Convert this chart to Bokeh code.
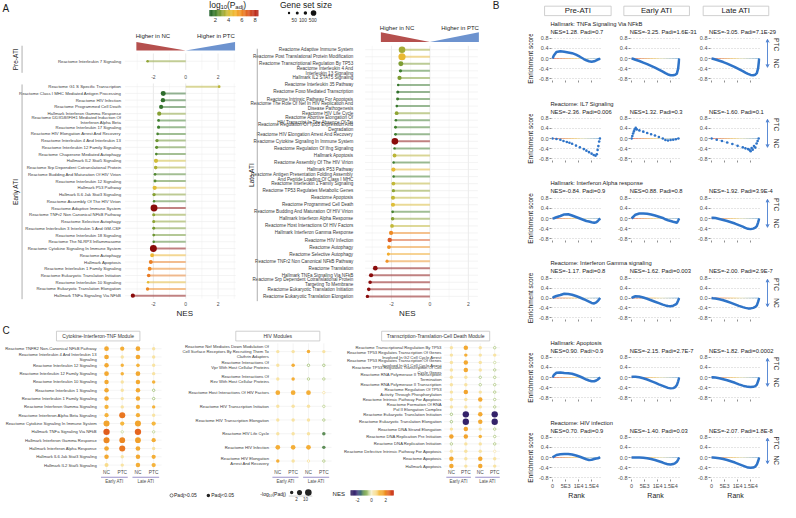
import math
import numpy as np
from bokeh.plotting import figure
from bokeh.layouts import row, column
from bokeh.models import Range1d, FixedTicker, PrintfTickFormatter, Arrow, VeeHead
from bokeh.core.properties import value
from bokeh.embed import file_html
from bokeh.resources import INLINE

FONT = "Liberation Sans"

# ------------------------------------------------------------------ data: panel A
PRE_LABELS = ["Reactome Interleukin 7 Signaling"]
PRE_NES = [-2.36]
PRE_LOGP = [3.0]
PRE_SIZE = [20]

EARLY_LABELS = [
    "Reactome G1 S Specific Transcription",
    "Reactome Class I MHC Mediated Antigen Processing",
    "Reactome HIV Infection",
    "Reactome Programmed Cell Death",
    "Hallmark Interferon Gamma Response",
    "Reactome DDX58/IFIH1 Mediated Induction Of\nInterferon Alpha Beta",
    "Reactome Interleukin 17 Signaling",
    "Reactome HIV Elongation Arrest And Recovery",
    "Reactome Interleukin 4 And Interleukin 13",
    "Reactome Interleukin 12 Family Signaling",
    "Reactome Chaperone Mediated Autophagy",
    "Hallmark IL2 Stat5 Signaling",
    "Reactome Srp Dependent Cotranslational Protein",
    "Reactome Budding And Maturation Of HIV Virion",
    "Reactome Interleukin 12 Signaling",
    "Hallmark P53 Pathway",
    "Hallmark IL6 Jak Stat3 Signaling",
    "Reactome Assembly Of The HIV Virion",
    "Reactome Adaptive Immune System",
    "Reactome TNFr2 Non Canonical NFkB Pathway",
    "Reactome Selective Autophagy",
    "Reactome Interleukin 3 Interleukin 5 And GM-CSF",
    "Reactome Interleukin 18 Signaling",
    "Reactome The NLRP3 Inflammasome",
    "Reactome Cytokine Signaling In Immune System",
    "Reactome Autophagy",
    "Hallmark Apoptosis",
    "Reactome Interleukin 1 Family Signaling",
    "Reactome Eukaryotic Translation Initiation",
    "Reactome Interleukin 10 Signaling",
    "Reactome Eukaryotic Translation Elongation",
    "Hallmark TNFa Signaling Via NFkB"]
EARLY_NES = [2.07, -1.39, -1.41, -1.52, -1.64, -1.68, -1.68, -1.74, -1.78, -1.80, -1.82, -1.84,
             -1.86, -1.90, -1.90, -1.92, -1.96, -1.96, -1.96, -1.98, -1.98, -1.98, -1.98, -1.98,
             -2.00, -2.08, -2.16, -2.23, -2.29, -2.33, -2.36, -3.27]
EARLY_LOGP = [3.6, 1.5, 1.6, 1.7, 2.9, 2.0, 2.0, 2.1, 2.6, 2.4, 2.2, 3.9, 3.4, 2.2, 2.3, 4.3,
              2.9, 2.2, 10, 3.0, 3.0, 2.7, 2.6, 2.2, 10, 4.8, 6.2, 6.0, 6.3, 4.5, 6.0, 10]
EARLY_SIZE = [25, 350, 230, 200, 200, 30, 60, 20, 80, 55, 20, 200, 110, 28, 45, 200, 87, 15,
              900, 60, 60, 45, 30, 15, 900, 140, 161, 140, 120, 15, 90, 200]

LATE_LABELS = [
    "Reactome Adaptive Immune System",
    "Reactome Post Translational Protein Modification",
    "Reactome Transcriptional Regulation By TP53",
    "Reactome Interleukin 4 And\nInterleukin 13 Signaling",
    "Hallmark IL2 STAT5 Signaling",
    "Reactome Interleukin 35 Pathway",
    "Reactome Foxo Mediated Transcription",
    "Reactome Intrinsic Pathway For Apoptosis",
    "Reactome The Role Of Nef In HIV Replication And\nDisease Pathogenesis",
    "Reactome HIV Life Cycle",
    "Reactome Abortive Elongation Of\nHIV Transcript In The Absence Of Tat",
    "Reactome Regulation Of Tp53 Expression And\nDegradation",
    "Reactome HIV Elongation Arrest And Recovery",
    "Reactome Cytokine Signaling In Immune System",
    "Reactome Regulation Of Ifng Signaling",
    "Hallmark Apoptosis",
    "Reactome Assembly Of The HIV Virion",
    "Hallmark P53 Pathway",
    "Reactome Antigen Presentation Folding Assembly\nAnd Peptide Loading Of Class I MHC",
    "Reactome Interleukin 1 Family Signaling",
    "Reactome TP53 Regulates Metabolic Genes",
    "Reactome Apoptosis",
    "Reactome Programmed Cell Death",
    "Reactome Budding And Maturation Of HIV Virion",
    "Hallmark Interferon Alpha Response",
    "Reactome Host Interactions Of HIV Factors",
    "Hallmark Interferon Gamma Response",
    "Reactome HIV Infection",
    "Reactome Autophagy",
    "Reactome Selective Autophagy",
    "Reactome TNFr2 Non Canonical NFkB Pathway",
    "Reactome Translation",
    "Hallmark TNFa Signaling Via NFkB",
    "Reactome Srp Dependent Cotranslational Protein\nTargeting To Membrane",
    "Reactome Eukaryotic Translation Initiation",
    "Reactome Eukaryotic Translation Elongation"]
LATE_NES = [-1.45, -1.45, -1.51, -1.53, -1.58, -1.65, -1.67, -1.68, -1.72, -1.73, -1.77, -1.79,
            -1.79, -1.82, -1.84, -1.84, -1.89, -1.90, -1.89, -1.90, -1.90, -1.92, -1.92, -1.94,
            -1.94, -1.97, -2.02, -2.09, -2.13, -2.16, -2.23, -2.84, -3.06, -3.11, -3.18, -3.25]
LATE_LOGP = [3.3, 4.6, 2.8, 2.0, 2.8, 1.8, 1.6, 1.9, 1.8, 3.0, 1.9, 2.0, 1.9, 10, 1.9, 3.6, 1.9,
             4.5, 2.0, 3.7, 3.0, 3.7, 4.2, 2.1, 2.9, 3.7, 6.0, 7.0, 5.8, 5.2, 5.8, 10, 10, 10, 10, 10]
LATE_SIZE = [800, 1000, 350, 80, 200, 15, 60, 50, 25, 140, 20, 35, 30, 800, 15, 161, 15, 200, 15,
             140, 80, 170, 190, 28, 97, 130, 200, 230, 140, 60, 60, 290, 200, 110, 120, 90]

LOGP_TICKS = [2, 4, 6, 8]
SIZE_LEGEND = [10, 50, 100, 500]
SIZE_LEGEND_LABELS = ["50", "100", "500"]

# ------------------------------------------------------------------ data: panel B
B_COLS = ["Pre-ATI", "Early ATI", "Late ATI"]
GS_TITLES = ["Hallmark: TNFa Signaling Via NFkB", "Reactome: IL7 Signaling",
             "Hallmark: Interferon Alpha response", "Reactome: Interferon Gamma signaling",
             "Hallmark: Apoptosis", "Reactome: HIV infection"]
GS_STATS = [["NES=1.28, Padj=0.7", "NES=-3.25, Padj=1.6E-31", "NES=-3.05, Padj=7.1E-29"],
            ["NES=-2.36, Padj=0.006", "NES=1.32, Padj=0.3", "NES=-1.60, Padj=0.1"],
            ["NES=-0.84, Padj=0.9", "NES=0.88, Padj=0.8", "NES=-1.92, Padj=3.9E-4"],
            ["NES=-1.17, Padj=0.8", "NES=-1.62, Padj=0.003", "NES=-2.00, Padj=2.9E-7"],
            ["NES=0.90, Padj>0.9", "NES=-2.15, Padj=2.7E-7", "NES=-1.82, Padj=0.0002"],
            ["NES=0.70, Padj=0.9", "NES=-1.40, Padj=0.03", "NES=-2.07, Padj=1.8E-8"]]
RANK_TICKS = [0, 5000, 10000, 15000]
RANK_LABELS = ["0", "5E3", "1E4", "1.5E4"]
ES_TICKS = [-0.8, -0.4, 0.0, 0.4, 0.8]

GS_RANK = [0, 500, 1500, 3000, 4500, 6000, 7500, 9000, 10500, 12000, 13000, 14000, 15000,
           16000, 16800, 17400, 17900, 18300]
ES_TNFA = [[0, 0.12, 0.26, 0.29, 0.27, 0.24, 0.21, 0.15, 0.07, -0.02, -0.07, -0.11, -0.13, -0.11, -0.07, -0.04, -0.02, 0],
           [0, -0.01, -0.05, -0.10, -0.16, -0.22, -0.29, -0.36, -0.44, -0.52, -0.58, -0.63, -0.66, -0.66, -0.64, -0.60, -0.40, 0],
           [0, -0.01, -0.04, -0.09, -0.14, -0.20, -0.27, -0.34, -0.42, -0.50, -0.56, -0.61, -0.65, -0.66, -0.64, -0.58, -0.38, 0]]
ES_IFNA = [[0, 0.01, 0.05, 0.10, 0.16, 0.17, 0.12, 0.06, 0.0, -0.06, -0.10, -0.12, -0.15, -0.17, -0.15, -0.10, -0.04, 0],
           [0, 0.05, 0.15, 0.20, 0.20, 0.19, 0.16, 0.12, 0.07, 0.02, -0.03, -0.07, -0.10, -0.13, -0.15, -0.17, -0.08, 0],
           [0.02, 0.03, 0.02, -0.02, -0.06, -0.10, -0.15, -0.20, -0.26, -0.32, -0.37, -0.41, -0.42, -0.40, -0.36, -0.30, -0.15, 0]]
ES_IFNG = [[0, 0.04, 0.08, 0.12, 0.17, 0.16, 0.13, 0.08, 0.02, -0.05, -0.10, -0.15, -0.20, -0.22, -0.18, -0.12, -0.05, 0],
           [0, 0.03, 0.07, 0.06, 0.02, -0.03, -0.09, -0.15, -0.21, -0.27, -0.30, -0.32, -0.33, -0.31, -0.27, -0.22, -0.10, 0],
           [0, -0.01, -0.02, -0.05, -0.09, -0.14, -0.20, -0.26, -0.32, -0.37, -0.40, -0.42, -0.42, -0.40, -0.36, -0.30, -0.15, 0]]
ES_APOP = [[0, 0.10, 0.19, 0.20, 0.18, 0.17, 0.15, 0.10, 0.04, -0.03, -0.08, -0.12, -0.15, -0.15, -0.12, -0.08, -0.03, 0],
           [0.02, 0.03, 0.03, 0.01, -0.03, -0.08, -0.14, -0.20, -0.27, -0.33, -0.37, -0.41, -0.43, -0.42, -0.38, -0.30, -0.15, 0],
           [0, 0.01, 0.0, -0.03, -0.07, -0.11, -0.16, -0.21, -0.27, -0.32, -0.35, -0.37, -0.38, -0.37, -0.34, -0.28, -0.14, 0]]
ES_HIV = [[0, 0.04, 0.10, 0.13, 0.14, 0.14, 0.12, 0.08, 0.03, -0.03, -0.07, -0.10, -0.09, -0.06, -0.04, -0.03, -0.01, 0],
          [0, 0.0, 0.0, 0.0, -0.01, -0.03, -0.06, -0.10, -0.15, -0.20, -0.24, -0.27, -0.28, -0.26, -0.22, -0.17, -0.08, 0],
          [0, 0.0, -0.01, -0.03, -0.06, -0.10, -0.15, -0.20, -0.26, -0.32, -0.36, -0.40, -0.41, -0.40, -0.36, -0.28, -0.14, 0]]
IL7_PRE_RANK = [0, 1500, 3000, 4200, 5500, 6500, 7500, 9000, 10500, 12000, 13000, 14000, 15000,
                15800, 16500, 17000, 17300, 17600, 17900, 18200]
IL7_PRE_ES = [0, -0.02, -0.05, -0.10, -0.14, -0.17, -0.21, -0.28, -0.35, -0.42, -0.48, -0.54,
              -0.60, -0.65, -0.68, -0.62, -0.45, -0.30, -0.12, 0]
IL7_EARLY_RANK = [0, 300, 600, 900, 1200, 1600, 2000, 3000, 4500, 6000, 7500, 9000, 10500, 12000,
                  13000, 14000, 15000, 16000, 17000, 18000]
IL7_EARLY_ES = [0, 0.10, 0.20, 0.28, 0.36, 0.42, 0.36, 0.32, 0.27, 0.22, 0.17, 0.12, 0.06, 0.0,
                -0.06, -0.08, -0.06, -0.05, -0.03, 0]
IL7_LATE_RANK = [0, 2000, 4000, 6000, 8000, 10000, 12000, 13000, 14000, 14600, 15000, 15400,
                 15800, 16300, 16800, 17300, 17700, 18100]
IL7_LATE_ES = [0, -0.05, -0.10, -0.16, -0.22, -0.29, -0.35, -0.39, -0.42, -0.45, -0.50, -0.38,
               -0.44, -0.30, -0.36, -0.20, -0.10, 0]

# ------------------------------------------------------------------ data: panel C
C_COLS = ["NC", "PTC", "NC", "PTC"]
C_GROUPS = ["Early ATI", "Late ATI"]
CYTO_LABELS = [
    "Reactome TNFR2 Non-Canonical NFkB Pathway",
    "Reactome Interleukin 4 And Interleukin 13\nSignaling",
    "Reactome Interleukin 12 Signaling",
    "Reactome Interleukin 12 Family Signaling",
    "Reactome Interleukin 10 Signaling",
    "Reactome Interleukin 1 Signaling",
    "Reactome Interleukin 1 Family Signaling",
    "Reactome Interferon Gamma Signaling",
    "Reactome Interferon Alpha Beta Signaling",
    "Reactome Cytokine Signaling In Immune System",
    "Hallmark TNFa Signaling Via NFkB",
    "Hallmark Interferon Gamma Response",
    "Hallmark Interferon Alpha Response",
    "Hallmark IL6 Jak Stat3 Signaling",
    "Hallmark IL2 Stat5 Signaling"]
CYTO_NES = [(1.5, 1.4, 1.5, 0.4), (1.5, 0.4, 1.5, 0.4), (1.5, 1.3, 1.3, 0.4), (1.5, 1.3, 1.5, 0.4),
            (1.5, 0.4, 1.5, 1.3), (1.5, 0.4, 1.5, -0.6), (1.5, 0.4, 1.5, -0.6), (1.3, 0.4, 1.4, 1.3),
            (1.3, 2.2, 1.4, 0.4), (1.6, 1.2, 1.6, 1.2), (2.5, -0.3, 2.4, -0.4), (2.0, 2.0, 1.7, 1.4),
            (1.5, 2.2, 1.5, 0.4), (1.5, 0.4, 1.5, 1.4), (0.6, 0.4, 1.4, 1.3)]
CYTO_LP = [(4, 3, 4, 1.5), (4, 1.5, 4, 1.5), (3.5, 1.5, 1.8, 1.5), (4, 1.6, 4, 1.5),
           (3.5, 1.5, 3.5, 1.6), (3.5, 1.5, 3.5, 0.4), (3.5, 1.5, 3.5, 0.4), (3, 1.5, 3, 1.5),
           (3, 8, 3, 1.5), (8, 3, 8, 3), (9, 0.4, 9, 0.4), (8, 7, 7, 3),
           (4, 8, 4, 1.5), (3.5, 1.5, 3.5, 3), (2.5, 1.5, 3.5, 3)]
HIV_LABELS = [
    "Reactome Nef Mediates Down Modulation Of\nCell Surface Receptors By Recruiting Them To\nClathrin Adapters",
    "Reactome Interactions Of\nVpr With Host Cellular Proteins",
    "Reactome Interactions Of\nRev With Host Cellular Proteins",
    "Reactome Host Interactions Of HIV Factors",
    "Reactome HIV Transcription Initiation",
    "Reactome HIV Transcription Elongation",
    "Reactome HIV Life Cycle",
    "Reactome HIV Infection",
    "Reactome HIV Elongation\nArrest And Recovery"]
HIV_NES = [(0.4, 0.4, 1.4, 0.4), (0.4, 1.4, -0.6, -0.6), (0.4, 1.4, -0.5, -0.5), (1.4, 1.4, 1.4, 0.3),
           (0.4, 0.4, 0.4, -0.4), (0.4, 0.4, 0.4, -0.5), (0.4, 0.4, 0.4, -1.2), (1.4, 1.4, 1.4, -1.2),
           (1.4, 0.4, 0.4, -0.5)]
HIV_LP = [(1.5, 1.5, 1.6, 1.5), (1.5, 1.6, 0.4, 0.4), (1.5, 1.6, 0.4, 0.4), (4, 4, 4, 0.4),
          (1.5, 1.5, 1.5, 0.4), (1.5, 1.5, 1.5, 0.4), (1.5, 1.5, 1.5, 1.6), (4, 4, 4, 1.6),
          (1.6, 1.5, 0.4, 0.4)]
TX_LABELS = [
    "Reactome Transcriptional Regulation By TP53",
    "Reactome TP53 Regulates Transcription Of Genes\nInvolved In G2 Cell Cycle Arrest",
    "Reactome TP53 Regulates Transcription Of Genes\nInvolved In G1 Cell Cycle Arrest",
    "Reactome TP53 Regulates Transcription Of Cell\nCycle Genes",
    "Reactome RNA Polymerase II Transcription\nTermination",
    "Reactome RNA Polymerase II Transcription",
    "Reactome Regulation Of TP53\nActivity Through Phosphorylation",
    "Reactome Intrinsic Pathway For Apoptosis",
    "Reactome Formation Of RNA\nPol II Elongation Complex",
    "Reactome Eukaryotic Translation Initiation",
    "Reactome Eukaryotic Translation Elongation",
    "Reactome DNA Strand Elongation",
    "Reactome DNA Replication Pre Initiation",
    "Reactome DNA Replication Initiation",
    "Reactome Defective Intrinsic Pathway For Apoptosis",
    "Reactome Apoptosis",
    "Hallmark Apoptosis"]
TX_NES = [(0.4, 1.5, 0.4, -0.5), (0.4, 1.4, 0.4, 0.4), (0.4, 1.5, 0.4, -0.3), (0.4, 1.5, 0.4, -0.5),
          (0.4, 0.4, -0.5, -0.5), (0.4, 0.4, -0.5, -0.5), (0.4, 1.6, 0.4, -0.5), (0.4, 0.4, 1.5, -0.5),
          (0.4, 0.4, 0.4, -0.5), (-0.6, -2.6, 1.5, -2.6), (-0.6, -2.6, 1.5, -2.6), (0.4, 1.6, 0.4, -0.5),
          (1.6, 1.6, 1.3, -0.5), (-0.5, 0.4, 0.4, -0.5), (0.4, 0.4, 0.4, 0.2), (1.5, 0.4, 1.5, 0.4),
          (1.5, 0.4, 1.5, 0.4)]
TX_LP = [(1.5, 3.5, 1.5, 0.4), (1.5, 1.6, 1.5, 1.5), (1.5, 3.5, 1.5, 0.4), (1.5, 3.5, 1.5, 0.4),
         (1.5, 1.5, 0.4, 0.4), (1.5, 1.5, 0.4, 0.4), (1.5, 3.5, 1.5, 0.4), (1.5, 1.5, 3.5, 0.4),
         (1.5, 1.5, 1.5, 0.4), (0.4, 9, 3.5, 9), (0.4, 9, 3.5, 9), (1.5, 3.5, 1.5, 0.4),
         (3.5, 3.5, 1.6, 0.4), (0.4, 1.5, 1.5, 0.4), (1.5, 1.5, 1.5, 0.4), (3.5, 1.5, 3.5, 1.5),
         (3.5, 1.5, 3.5, 1.5)]
LP_LEGEND = [1.5, 5, 10]
LP_LEGEND_LABELS = ["2", "10"]
NES_TICKS = [-2, 0, 2]

# ------------------------------------------------------------------ styles / helpers
A_STOPS = [(1.0, "#1d5a2a"), (2.0, "#3f7f2e"), (3.0, "#8ea434"), (4.0, "#d9c03a"), (5.0, "#f4b52f"),
           (6.0, "#ef8a24"), (7.0, "#dc5a26"), (8.0, "#be2f1e"), (10.0, "#8a0b0b")]
C_STOPS = [(-3.0, "#2c1a5a"), (-2.2, "#3d2b78"), (-1.6, "#3f6a7e"), (-1.0, "#6e9e45"), (-0.4, "#c2d597"),
           (0.0, "#f7f0d0"), (0.6, "#f8dc8c"), (1.2, "#f6b840"), (1.8, "#f09a25"), (2.4, "#e5651f"),
           (3.0, "#c9371c")]
BASE_STOPS = [(0.0, "#e0604e"), (0.45, "#f2c86a"), (0.62, "#e6e2b8"), (1.0, "#7fb0dc")]
CURVE = "#2f74c8"

SXF = 780.0 / 796.0
SYF = 502.0 / 518.0
A_SPLIT = 24


def sx(v):
    return int(round(v * SXF))


def sy(v):
    return int(round(v * SYF))


def h2r(h):
    return tuple(int(h[i:i + 2], 16) for i in (1, 3, 5))


def interp(stops, v):
    if v <= stops[0][0]:
        return stops[0][1]
    for (a, ca), (b, cb) in zip(stops, stops[1:]):
        if v <= b:
            t = (v - a) / (b - a)
            r1, r2 = h2r(ca), h2r(cb)
            return "#%02x%02x%02x" % tuple(int(round(r1[k] + (r2[k] - r1[k]) * t)) for k in range(3))
    return stops[-1][1]


def gsize(n):
    return 1.8 + 0.17 * math.sqrt(n)


def csize(lp):
    return 1.4 + 1.65 * math.sqrt(lp)


def canvas(L, R, T, B, xmap=(0.0, 1.0), ymap=(0.0, 1.0)):
    x0, kx = xmap
    y0, ky = ymap
    p = figure(width=sx(R) - sx(L), height=sy(B) - sy(T), title=None,
               x_range=Range1d((L - x0) / kx, (R - x0) / kx),
               y_range=Range1d((B - y0) / ky, (T - y0) / ky),
               output_backend="svg", toolbar_location=None,
               x_axis_location=None, y_axis_location=None,
               min_border_left=0, min_border_right=0, min_border_top=0, min_border_bottom=0)
    p.outline_line_color = None
    p.grid.visible = False
    p.background_fill_color = "white"
    p.border_fill_color = "white"
    return p


def txt(p, x, y, t, size, color="#1a1a1a", align="left", base="middle", angle=0.0, style="normal"):
    p.text(x=list(x), y=list(y), text=list(t), text_font=value(FONT), text_font_size=size,
           text_color=color, text_align=align, text_baseline=base, angle=angle,
           text_font_style=style, text_line_height=1.0)


# ------------------------------------------------------------------ panel A
def lollipop(L, R, T, B, x0, kx, y0, dy, labels, nes, lp, gs, pan, lab_px, lab_size,
             tick_py, nes_pt, facet, hdr):
    p = canvas(L, R, T, B, xmap=(x0, kx), ymap=(y0, dy))
    X = lambda v: (v - x0) / kx
    Y = lambda v: (v - y0) / dy
    pl, pr, pt, pb = pan
    gx = [g for g in range(-4, 5) if X(pl) <= g <= X(pr)]
    minor = [g for g in gx if g % 2]
    major = [g for g in gx if g % 2 == 0]
    p.segment(x0=minor, y0=[Y(pt)] * len(minor), x1=minor, y1=[Y(pb)] * len(minor),
              line_color="#f3f3f3", line_width=0.6)
    p.segment(x0=major, y0=[Y(pt)] * len(major), x1=major, y1=[Y(pb)] * len(major),
              line_color="#e4e4e4", line_width=0.8)
    n = len(labels)
    idx = list(range(n))
    p.segment(x0=[X(pl)] * n, y0=idx, x1=[X(pr)] * n, y1=idx, line_color="#ededed", line_width=0.6)
    cols = [interp(A_STOPS, v) for v in lp]
    p.segment(x0=[0] * n, y0=idx, x1=nes, y1=idx, line_color=cols, line_alpha=0.5, line_width=2.0)
    p.scatter(x=nes, y=idx, size=[gsize(s) for s in gs], fill_color=cols, line_color=None)
    txt(p, [X(lab_px)] * n, idx, labels, lab_size, color="#3a3a3a", align="right")
    txt(p, NES_TICKS, [Y(tick_py)] * 3, [str(t) for t in NES_TICKS], "5px", color="#4d4d4d", align="center")
    if nes_pt:
        txt(p, [X(nes_pt[0])], [Y(nes_pt[1])], ["NES"], "8px", align="center")
    fname, fx, flx, fy0, fy1 = facet
    p.segment(x0=[X(flx)], y0=[Y(fy0)], x1=[X(flx)], y1=[Y(fy1)], line_color="#9a9a9a", line_width=0.8)
    txt(p, [X(fx)], [Y((fy0 + fy1) / 2)], [fname], "6.5px", align="center", angle=math.pi / 2)
    if hdr:
        tpy, ttop, tbot, half, ncx, ptcx = hdr
        p.patches(xs=[[-half, -half, 0], [0, half, half]],
                  ys=[[Y(ttop), Y(tbot), Y(tbot)], [Y(tbot), Y(tbot), Y(ttop)]],
                  fill_color=["#b5504e", "#6d93cf"], line_color=None)
        txt(p, [X(ncx)], [Y(tpy)], ["Higher in NC"], "6px", align="left")
        txt(p, [X(ptcx)], [Y(tpy)], ["Higher in PTC"], "6px", align="right")
    return p


top = canvas(0, 510, 0, A_SPLIT)
txt(top, [2], [8], ["A"], "10px")
txt(top, [502], [5.5], ["B"], "10px")
txt(top, [213], [5], ["log"], "8.5px")
txt(top, [224.3], [7], ["10"], "6px")
txt(top, [231], [5], ["(P"], "8.5px")
txt(top, [239.5], [7], ["adj"], "6px")
txt(top, [247.5], [5], [")"], "8.5px")
cb_v = np.linspace(1.1, 8.35, 60)
cb_step = cb_v[1] - cb_v[0]
cb_px = lambda v: 213 + (v - 1.1) * (262 - 213) / (8.35 - 1.1)
top.quad(left=[cb_px(v) for v in cb_v], right=[cb_px(v + cb_step) + 0.3 for v in cb_v],
         top=[10] * len(cb_v), bottom=[16.5] * len(cb_v),
         fill_color=[interp(A_STOPS, v + cb_step / 2) for v in cb_v], line_color=None)
txt(top, [cb_px(v) for v in LOGP_TICKS], [20.5] * 4, [str(v) for v in LOGP_TICKS], "5.8px",
    color="#333333", align="center")
txt(top, [285], [4.5], ["Gene set size"], "8.5px")
top.scatter(x=[294.3, 302.7, 311, 319.3], y=[13] * 4, size=[gsize(n) for n in SIZE_LEGEND],
            fill_color="#111111", line_color=None)
txt(top, [299.5, 308.5, 318.5], [20] * 3, SIZE_LEGEND_LABELS, "4.8px", color="#333333", align="center")

pre = lollipop(0, 250, A_SPLIT, 85, 189, 16.5, 63, 6.94, PRE_LABELS, PRE_NES, PRE_LOGP, PRE_SIZE,
               (127, 240, 55, 72), 123, "4.3px", 79, None, ("Pre-ATI", 15, 22, 47, 75),
               (37, 43, 52, 3.05, 138, 239))
early = lollipop(0, 250, 85, 332, 189, 16.5, 89.3, 6.94, EARLY_LABELS, EARLY_NES, EARLY_LOGP, EARLY_SIZE,
                 (127, 240, 86, 307.5), 123, "4.3px", 312.5, (188, 323),
                 ("Early ATI", 15, 22, 87, 308), None)
late = lollipop(250, 510, A_SPLIT, 332, 438, 19.6, 51, 7.26, LATE_LABELS, LATE_NES, LATE_LOGP, LATE_SIZE,
                (372, 487, 47, 309), 360, "4.6px", 313, (415, 323),
                ("Late ATI", 256, 262, 50, 310), (28.5, 33, 43, 2.55, 387, 488))


# ------------------------------------------------------------------ panel C
def cmodule(L, R, cx0, cdx, ry0, rdy, lab_px, box, title, labels, nes_rows, lp_rows, letter=False):
    p = canvas(L, R, 332, 500, xmap=(cx0, cdx), ymap=(ry0, rdy))
    X = lambda v: (v - cx0) / cdx
    Y = lambda v: (v - ry0) / rdy
    n = len(labels)
    idx = list(range(n))
    p.segment(x0=[-0.5] * n, y0=idx, x1=[3.5] * n, y1=idx, line_color="#ececec", line_width=0.6)
    p.segment(x0=[0, 1, 2, 3], y0=[-0.6] * 4, x1=[0, 1, 2, 3], y1=[n - 0.4] * 4,
              line_color="#ececec", line_width=0.6)
    fx, fy, fs, fc, ox, oy, osz, oc = [], [], [], [], [], [], [], []
    for i in idx:
        for j in range(4):
            c = interp(C_STOPS, nes_rows[i][j])
            if lp_rows[i][j] > 1.3:
                fx.append(j); fy.append(i); fs.append(csize(lp_rows[i][j])); fc.append(c)
            else:
                ox.append(j); oy.append(i); osz.append(csize(lp_rows[i][j])); oc.append(c)
    p.scatter(x=ox, y=oy, size=osz, fill_color="white", line_color=oc, line_width=0.9)
    p.scatter(x=fx, y=fy, size=fs, fill_color=fc, line_color=None)
    txt(p, [X(lab_px)] * n, idx, labels, "4.2px", color="#3a3a3a", align="right")
    txt(p, [0, 1, 2, 3], [Y(487)] * 4, C_COLS, "4.8px", color="#4d4d4d", align="center")
    p.segment(x0=[-0.35, 1.65], y0=[Y(491.5)] * 2, x1=[1.35, 3.35], y1=[Y(491.5)] * 2,
              line_color="#8e84c4", line_width=0.9)
    txt(p, [0.5, 2.5], [Y(496)] * 2, C_GROUPS, "4.5px", color="#4d4d4d", align="center")
    p.quad(left=[X(box[0])], right=[X(box[1])], top=[Y(341)], bottom=[Y(351)],
           fill_color="white", line_color="#c4c4c4", line_width=0.8)
    txt(p, [X((box[0] + box[1]) / 2)], [Y(346)], [title], "5px", color="#333333", align="center")
    if letter:
        txt(p, [X(2)], [Y(340)], ["C"], "10px")
    return p


c1 = cmodule(0, 165, 108, 16, 359, 8.57, 98, (57, 142), "Cytokine-Interferon-TNF Module",
             CYTO_LABELS, CYTO_NES, CYTO_LP, letter=True)
c2 = cmodule(165, 340, 283, 15.7, 362, 14.1, 274, (240, 326), "HIV Modules",
             HIV_LABELS, HIV_NES, HIV_LP)
c3 = cmodule(340, 510, 460, 14.7, 358, 7.625, 450, (389, 499), "Transcription-Translation-Cell Death Module",
             TX_LABELS, TX_NES, TX_LP)

leg = canvas(0, 510, 500, 518)
leg.scatter(x=[174.5], y=[510.5], size=3.2, fill_color="white", line_color="#444444", line_width=0.7)
txt(leg, [177], [510.5], ["Padj>0.05"], "5px")
leg.scatter(x=[212], y=[510.5], size=3.5, fill_color="#222222", line_color=None)
txt(leg, [215], [510.5], ["Padj<0.05"], "5px")
txt(leg, [291], [509], ["-log₁₀(Padj)"], "5px", align="right")
leg.scatter(x=[297, 305, 314], y=[507.5] * 3, size=[csize(v) for v in LP_LEGEND],
            fill_color="#222222", line_color=None)
leg.segment(x0=[294], y0=[511.2], x1=[318], y1=[511.2], line_color="#999999", line_width=0.5)
txt(leg, [302, 311], [514.8] * 2, LP_LEGEND_LABELS, "4.5px", color="#333333", align="center")
txt(leg, [345], [508.5], ["NES"], "6px", align="center")
nb_v = np.linspace(-3, 3, 50)
nb_step = nb_v[1] - nb_v[0]
nb_px = lambda v: 357 + (v + 3) * (400 - 357) / 6.0
leg.quad(left=[nb_px(v) for v in nb_v], right=[nb_px(v + nb_step) + 0.3 for v in nb_v],
         top=[505] * len(nb_v), bottom=[510.5] * len(nb_v),
         fill_color=[interp(C_STOPS, v + nb_step / 2) for v in nb_v], line_color=None)
txt(leg, [nb_px(v) for v in NES_TICKS], [515] * 3, [str(v) for v in NES_TICKS], "4.5px",
    color="#333333", align="center")


# ------------------------------------------------------------------ panel B
def gsea(L, R, T, B, ml, mr, mt, mb, ranks, es, sparse, ylab, last):
    p = figure(width=sx(R) - sx(L), height=sy(B) - sy(T), title=None,
               x_range=Range1d(-400, 18800), y_range=Range1d(-0.87, 0.87),
               output_backend="svg", toolbar_location=None,
               min_border_left=sx(L + ml) - sx(L), min_border_right=sx(R) - sx(R - mr),
               min_border_top=sy(T + mt) - sy(T), min_border_bottom=sy(B) - sy(B - mb))
    p.outline_line_color = None
    p.background_fill_color = "white"
    p.border_fill_color = "white"
    p.xgrid.visible = False
    p.ygrid.ticker = FixedTicker(ticks=ES_TICKS)
    p.ygrid.grid_line_color = "#b5b5b5"
    p.ygrid.grid_line_dash = "1 2"
    p.ygrid.grid_line_width = 0.7
    for ax in (p.xaxis[0], p.yaxis[0]):
        ax.axis_line_color = None
        ax.major_tick_line_color = "#444444"
        ax.major_tick_line_width = 0.6
        ax.major_tick_out = 2
        ax.major_tick_in = 0
        ax.minor_tick_line_color = None
        ax.major_label_standoff = 1
        ax.major_label_text_font = FONT
        ax.major_label_text_font_size = "5.5px"
        ax.major_label_text_color = "#4d4d4d"
        ax.axis_label_text_font = FONT
        ax.axis_label_text_font_style = "normal"
        ax.axis_label_text_color = "#1a1a1a"
    ya = p.yaxis[0]
    ya.ticker = FixedTicker(ticks=ES_TICKS)
    ya.formatter = PrintfTickFormatter(format="%.1f")
    if ylab:
        ya.axis_label = "Enrichment score"
        ya.axis_label_text_font_size = "6.5px"
        ya.axis_label_standoff = 2
    xa = p.xaxis[0]
    xa.ticker = FixedTicker(ticks=RANK_TICKS)
    if last:
        xa.major_label_overrides = {t: s for t, s in zip(RANK_TICKS, RANK_LABELS)}
        xa.axis_label = "Rank"
        xa.axis_label_text_font_size = "7px"
        xa.axis_label_standoff = 0
    else:
        xa.major_label_text_color = None
    bins = list(range(0, 18300, 300))
    p.segment(x0=bins, y0=[0] * len(bins), x1=[b + 300 for b in bins], y1=[0] * len(bins),
              line_color=[interp(BASE_STOPS, b / 18300.0) for b in bins], line_alpha=0.8, line_width=1.0)
    if sparse:
        p.line(ranks, es, line_color=CURVE, line_width=0.7, line_alpha=0.45, line_dash="2 2")
        p.scatter(x=ranks, y=es, size=2.6, fill_color=CURVE, line_color=None)
    else:
        p.line(ranks, es, line_color=CURVE, line_width=2.5)
    return p


def strip(T, B, zero_py):
    p = canvas(781, 796, T, B, ymap=(zero_py, -26.0))
    c = "#4a7fd0"
    p.add_layout(Arrow(x_start=783, y_start=0.8, x_end=783, y_end=-0.8, line_color=c, line_width=0.9,
                       start=VeeHead(size=3, line_color=c, fill_color=c, line_width=0.8),
                       end=VeeHead(size=3, line_color=c, fill_color=c, line_width=0.8)))
    txt(p, [791.5], [0.5], ["PTC"], "6.5px", color="#333333", align="center", angle=-math.pi / 2)
    txt(p, [791.5], [-0.58], ["NC"], "6.5px", color="#333333", align="center", angle=-math.pi / 2)
    return p


bhead = canvas(510, 796, 0, 18)
boxes = [(555, 623), (636, 703), (717, 784)]
bhead.quad(left=[b[0] for b in boxes], right=[b[1] for b in boxes], top=[6] * 3, bottom=[16] * 3,
           fill_color="white", line_color="#c4c4c4", line_width=0.8)
txt(bhead, [(b[0] + b[1]) / 2 for b in boxes], [11] * 3, B_COLS, "7.8px", color="#1a1a1a", align="center")

curves = [
    [(GS_RANK, ES_TNFA[0], False), (GS_RANK, ES_TNFA[1], False), (GS_RANK, ES_TNFA[2], False)],
    [(IL7_PRE_RANK, IL7_PRE_ES, True), (IL7_EARLY_RANK, IL7_EARLY_ES, True), (IL7_LATE_RANK, IL7_LATE_ES, True)],
    [(GS_RANK, ES_IFNA[0], False), (GS_RANK, ES_IFNA[1], False), (GS_RANK, ES_IFNA[2], False)],
    [(GS_RANK, ES_IFNG[0], False), (GS_RANK, ES_IFNG[1], False), (GS_RANK, ES_IFNG[2], False)],
    [(GS_RANK, ES_APOP[0], False), (GS_RANK, ES_APOP[1], False), (GS_RANK, ES_APOP[2], False)],
    [(GS_RANK, ES_HIV[0], False), (GS_RANK, ES_HIV[1], False), (GS_RANK, ES_HIV[2], False)],
]

right_children = [bhead]
colspec = [(510, 618, 52, 5), (618, 699, 25, 5), (699, 781, 26, 5)]
for k in range(6):
    Tk = 18 + 82.3 * k
    Bk = Tk + 82.3 if k < 5 else 518
    last = (k == 5)
    band = canvas(510, 796, Tk, Tk + 17)
    txt(band, [561], [Tk + 6], [GS_TITLES[k]], "5.8px")
    txt(band, [561, 642, 723], [Tk + 14] * 3, GS_STATS[k], "5.8px")
    figs = []
    ft = Tk + 17
    for j, (L, R, ml, mr) in enumerate(colspec):
        rk, es, sp = curves[k][j]
        figs.append(gsea(L, R, ft, Bk, ml, mr, 2.4, Bk - (Tk + 64.6), rk, es, sp, j == 0, last))
    figs.append(strip(ft, Bk, Tk + 42))
    right_children += [band, row(*figs)]

left = column(top, row(column(pre, early), late), row(c1, c2, c3), leg)
layout = row(left, column(*right_children))

open("out.html", "w").write(file_html(layout, INLINE))
